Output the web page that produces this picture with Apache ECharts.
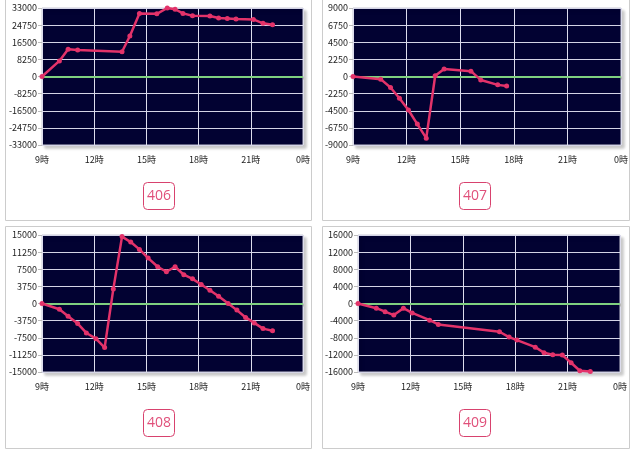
<!DOCTYPE html>
<html>
<head>
<meta charset="utf-8">
<script src="https://cdn.jsdelivr.net/npm/echarts@6/dist/echarts.min.js"></script>
<style>
html,body{margin:0;padding:0;background:#fff;}
#c{width:634px;height:454px;}
</style>
</head>
<body>
<div id="c"></div>
<script>
// ---- data ----
var panelNames = ['406', '407', '408', '409'];
var xTicks = [9, 12, 15, 18, 21, 24];

var t406 = [9, 10, 10.5, 11.05, 13.6, 14.05, 14.6, 15.6, 16.2, 16.65, 17.1, 17.65, 18.65, 19.15, 19.65, 20.15, 21.15, 21.7, 22.25];
var v406 = [0, 7500, 13100, 12800, 11900, 19500, 30400, 30200, 33000, 32400, 30400, 29300, 29100, 28200, 28000, 27700, 27500, 25600, 24900];

var t407 = [9, 10.55, 11.1, 11.6, 12.1, 12.6, 13.1, 13.6, 14.1, 15.6, 16.15, 17.1, 17.6];
var v407 = [0, -350, -1450, -2850, -4400, -6250, -8100, 100, 1000, 700, -450, -1100, -1250];

var t408 = [9, 10, 10.5, 11.05, 11.55, 12.1, 12.6, 13.1, 13.6, 14.1, 14.6, 15.1, 15.65, 16.15, 16.65, 17.15, 17.65, 18.15, 18.65, 19.15, 19.7, 20.2, 20.7, 21.2, 21.7, 22.25];
var v408 = [0, -1250, -2800, -4400, -6450, -7700, -9650, 3200, 14650, 13450, 11850, 9950, 8050, 6950, 8050, 6300, 5400, 4150, 2900, 1600, 0, -1450, -3050, -4250, -5500, -5950];

var t409 = [9, 10.05, 10.55, 11.05, 11.6, 12.1, 13.1, 13.6, 17.1, 17.65, 18.1, 19.15, 19.65, 20.15, 20.7, 21.2, 21.7, 22.3];
var v409 = [0, -1100, -1900, -2700, -1100, -2200, -3900, -4900, -6600, -7850, -8550, -10200, -11500, -11950, -12050, -13850, -15700, -15900];

var yMax = [33000, 9000, 15000, 16000];
var yStep = [8250, 2250, 3750, 4000];

var times = [t406, t407, t408, t409];
var vals = [v406, v407, v408, v409];

// ---- layout ----
var grids = [
  {left: 42, top: 8, width: 261, height: 137},
  {left: 353, top: 8, width: 268, height: 137},
  {left: 42, top: 235, width: 261, height: 137},
  {left: 358, top: 235, width: 262, height: 137}
];
var frames = [
  {x: 5.5, y: -5, w: 306, h: 225.5},
  {x: 322.5, y: -5, w: 307, h: 225.5},
  {x: 5.5, y: 226.5, w: 306, h: 222},
  {x: 322.5, y: 226.5, w: 307, h: 222}
];
var boxes = [
  {x: 143.5, y: 182.5},
  {x: 459.5, y: 182.5},
  {x: 143.5, y: 409.5},
  {x: 459.5, y: 409.5}
];

var LINE = '#e3336a';
var FONT = '"Noto Sans CJK JP", "Noto Sans", sans-serif';

var option = {
  animation: false,
  grid: [], xAxis: [], yAxis: [], series: [], graphic: []
};

for (var i = 0; i < 4; i++) {
  var g = grids[i];
  option.grid.push({
    left: g.left, top: g.top, width: g.width, height: g.height,
    show: true, backgroundColor: '#020232', borderColor: '#c8c8d4', borderWidth: 1,
    shadowColor: 'rgba(0,0,0,0.22)', shadowBlur: 3, shadowOffsetX: 3, shadowOffsetY: 3
  });
  option.xAxis.push({
    type: 'value', gridIndex: i, min: xTicks[0], max: xTicks[xTicks.length - 1], interval: 3,
    axisLine: {show: false},
    axisTick: {show: true, length: 3, lineStyle: {color: '#bbbbbb'}},
    axisLabel: {fontSize: 9, color: '#222', margin: 10, fontFamily: FONT,
      formatter: function (v) { return (v % 24) + '時'; }},
    splitLine: {show: true, lineStyle: {color: '#dcdcec', width: 1}}
  });
  option.yAxis.push({
    type: 'value', gridIndex: i, min: -yMax[i], max: yMax[i], interval: yStep[i],
    axisLine: {show: false},
    axisTick: {show: true, length: 4, lineStyle: {color: '#bbbbbb'}},
    axisLabel: {fontSize: 9, color: '#222', margin: 5, fontFamily: FONT,
      formatter: function (v) { return String(v); }},
    splitLine: {show: true, lineStyle: {color: '#d4d4e6', width: 1}}
  });
  var data = [];
  for (var k = 0; k < times[i].length; k++) data.push([times[i][k], vals[i][k]]);
  option.series.push({
    type: 'line', xAxisIndex: i, yAxisIndex: i, data: data,
    clip: false, symbol: 'circle', symbolSize: 5, showSymbol: true,
    lineStyle: {color: LINE, width: 2.5},
    itemStyle: {color: LINE},
    z: 5,
    markLine: {
      silent: true, symbol: 'none', label: {show: false},
      lineStyle: {color: '#7fd07f', width: 2, type: 'solid'},
      data: [{yAxis: 0}], z: 3
    }
  });
  var f = frames[i];
  option.graphic.push({
    type: 'rect', shape: {x: f.x, y: f.y, width: f.w, height: f.h},
    style: {fill: 'none', stroke: '#cccccc', lineWidth: 1}, z: -10, silent: true
  });
  var b = boxes[i];
  option.graphic.push({
    type: 'rect', shape: {x: b.x, y: b.y, width: 31, height: 27, r: 4},
    style: {fill: '#ffffff', stroke: '#d8426e', lineWidth: 1}, z: 10
  });
  option.graphic.push({
    type: 'text', x: b.x + 15.5, y: b.y + 14,
    style: {text: panelNames[i], fill: '#e0507a', fontSize: 14, fontFamily: '"Open Sans", "Noto Sans", sans-serif',
      align: 'center', verticalAlign: 'middle'}, z: 11
  });
}

var chart = echarts.init(document.getElementById('c'), null, {renderer: 'canvas'});
chart.setOption(option);
</script>
</body>
</html>
